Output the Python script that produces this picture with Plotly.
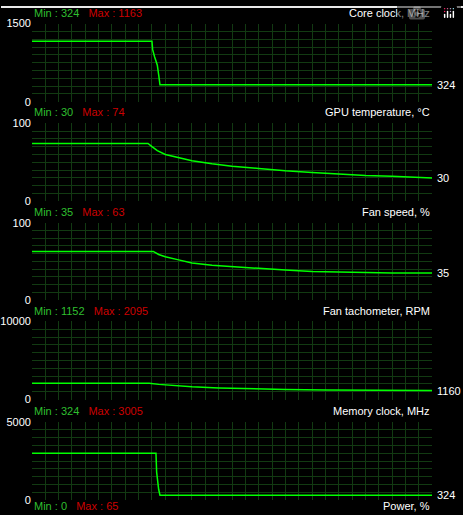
import plotly.graph_objects as go

W, H = 463, 515
# sample index 0..300
core_x = [0, 90, 90.5, 91.5, 92, 93, 94, 95, 96, 97, 300]
core_y = [1163, 1163, 1000, 880, 860, 780, 700, 520, 324, 324, 324]
temp_x = [0, 87, 90, 94, 100, 110, 120, 135, 150, 170, 190, 210, 230, 250, 270, 290, 300]
temp_y = [74, 74, 70, 65, 60, 56, 52, 48, 45, 42, 39, 37, 35, 33, 32, 31, 30]
fan_x = [0, 91, 95, 100, 110, 120, 135, 150, 170, 190, 210, 240, 270, 300]
fan_y = [63, 63, 59, 56, 52, 48, 45, 43, 41, 39, 37, 36, 35, 35]
tach_x = [0, 88, 95, 105, 120, 140, 160, 190, 220, 260, 300]
tach_y = [2095, 2095, 1950, 1800, 1650, 1500, 1400, 1300, 1220, 1170, 1160]
mem_x = [0, 93, 93.5, 94.5, 95, 96, 300]
mem_y = [3005, 3005, 1800, 700, 700, 324, 324]

panels = [
    dict(x=core_x, y=core_y, ymax=1500, mn="324", mx="1163", name="Core clock, MHz", last="324", top=18, bot=98),
    dict(x=temp_x, y=temp_y, ymax=100, mn="30", mx="74", name="GPU temperature, °C", last="30", top=120, bot=200),
    dict(x=fan_x, y=fan_y, ymax=100, mn="35", mx="63", name="Fan speed, %", last="35", top=222, bot=301),
    dict(x=tach_x, y=tach_y, ymax=10000, mn="1152", mx="2095", name="Fan tachometer, RPM", last="1160", top=323, bot=403),
    dict(x=mem_x, y=mem_y, ymax=5000, mn="324", mx="3005", name="Memory clock, MHz", last="324", top=426, bot=506),
]

fig = go.Figure()
font = dict(family="Liberation Sans, Arial", size=11, color="white")
x0p, x1p = 31 / W, 432 / W
grid = "#123a12"
for i, p in enumerate(panels, start=1):
    xa = "x" if i == 1 else f"x{i}"
    ya = "y" if i == 1 else f"y{i}"
    fig.add_trace(go.Scatter(x=p["x"], y=p["y"], mode="lines", line=dict(color="#00ff00", width=1.5),
                             xaxis=xa, yaxis=ya, showlegend=False, hoverinfo="skip"))
    dom = [1 - p["bot"] / H, 1 - p["top"] / H]
    fig.layout[f"xaxis{'' if i == 1 else i}"] = dict(
        domain=[x0p, x1p], range=[0, 300], showticklabels=False, zeroline=False,
        tickvals=list(range(0, 301, 10)), showgrid=True, gridcolor=grid, gridwidth=1,
        showline=False, anchor=ya, fixedrange=True)
    fig.layout[f"yaxis{'' if i == 1 else i}"] = dict(
        domain=dom, range=[0, p["ymax"]], tickvals=[0, p["ymax"]], ticktext=["0", str(p["ymax"])],
        showgrid=True, gridcolor=grid, zeroline=False, tickfont=font, ticks="",
        minor=dict(dtick=p["ymax"] / 10, showgrid=True, gridcolor=grid),
        anchor=xa, fixedrange=True)
    ty = 1 - (p["top"] - 11) / H
    fig.add_annotation(xref="paper", yref="paper", x=x0p, y=ty, xanchor="left", yanchor="middle", showarrow=False,
                       text=f"<span style='color:#2fbf2f'>Min : {p['mn']}</span>   <span style='color:#cc0000'>Max : {p['mx']}</span>",
                       font=dict(family="Liberation Sans, Arial", size=11))
    fig.add_annotation(xref="paper", yref="paper", x=x1p, y=ty, xanchor="right", yanchor="middle", showarrow=False,
                       text=p["name"], font=font)
    fig.add_annotation(xref="paper", yref=ya, x=x1p + 0.006, y=p["y"][-1], xanchor="left", yanchor="middle",
                       showarrow=False, text=p["last"], font=font)

ty = 1 - 512 / H
fig.add_annotation(xref="paper", yref="paper", x=x0p, y=ty, xanchor="left", yanchor="middle", showarrow=False,
                   text="<span style='color:#2fbf2f'>Min : 0</span>   <span style='color:#cc0000'>Max : 65</span>",
                   font=dict(family="Liberation Sans, Arial", size=11))
fig.add_annotation(xref="paper", yref="paper", x=x1p, y=ty, xanchor="right", yanchor="middle", showarrow=False,
                   text="Power, %", font=font)
fig.add_shape(type="rect", xref="paper", yref="paper", x0=0, x1=1, y0=1 - 2 / H, y1=1,
              fillcolor="#e8e8e8", line_width=0)

fig.update_layout(width=W, height=H, margin=dict(l=0, r=0, t=0, b=0),
                  paper_bgcolor="black", plot_bgcolor="black")
fig.write_html("out.html", post_script="document.body.style.margin='0';document.body.style.overflow='hidden';document.documentElement.style.overflow='hidden';")
